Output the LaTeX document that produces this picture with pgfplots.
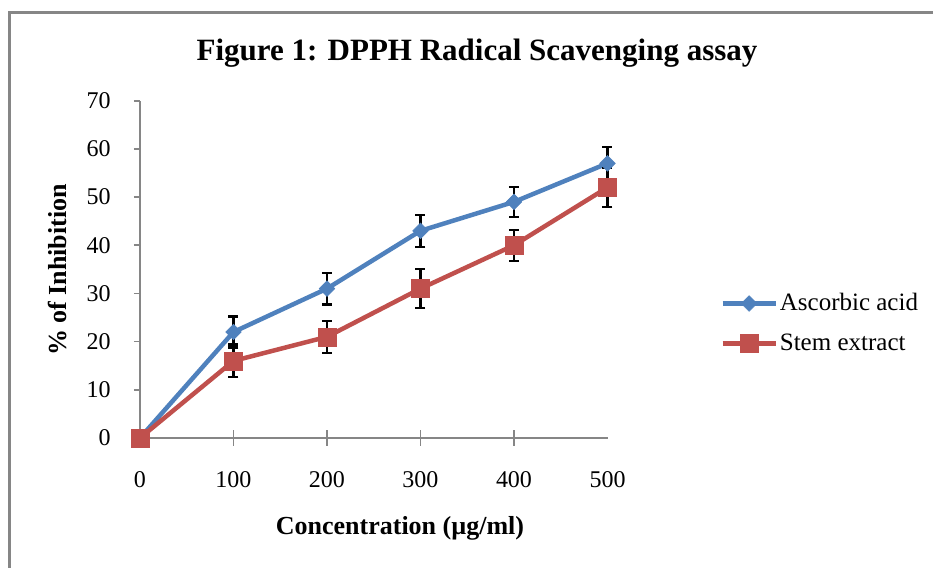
\documentclass[border=0pt]{standalone}
\usepackage{pgfplots}
\pgfplotsset{compat=1.18}
\usepackage{fontspec}
\setmainfont{Liberation Serif}
\definecolor{exblue}{HTML}{4F81BD}
\definecolor{exred}{HTML}{C0504D}
\definecolor{axgray}{HTML}{868686}
\begin{document}
\begin{tikzpicture}
\useasboundingbox (-70pt,-65pt) rectangle (396.5pt,219pt);
\begin{scope}
\clip (-70pt,-65pt) rectangle (396.5pt,219pt);
\draw[line width=1.5pt, draw=axgray] (-65pt,-90pt) -- (-65pt,212.5pt) -- (420pt,212.5pt);
\end{scope}
\node[anchor=base, font=\fontsize{15.5}{18}\selectfont\bfseries] at (168.5pt,188.5pt) {Figure 1: DPPH Radical Scavenging assay};
\node[anchor=base, font=\fontsize{13}{15}\selectfont\bfseries] at (130pt,-48.5pt) {Concentration (µg/ml)};
\node[anchor=base, rotate=90, font=\fontsize{13}{15}\selectfont\bfseries] at (-36.75pt,84pt) {\% of Inhibition};
\begin{axis}[
  at={(0pt,0pt)}, anchor=south west,
  scale only axis, width=233.75pt, height=168.65pt,
  xmin=0, xmax=500, ymin=0, ymax=70,
  axis lines*=left,
  axis line style={-, draw=axgray, line width=1pt},
  xtick={100,200,300,400},
  xticklabels={100,200,300,400},
  extra x ticks={0,500},
  extra x tick labels={0,500},
  extra x tick style={xtick style={/pgfplots/major tick length=0pt}},
  ytick={0,10,...,70},
  xtick align=center, ytick align=outside,
  major tick length=3pt,
  xtick style={/pgfplots/major tick length=8pt},
  tick style={draw=axgray, line width=0.8pt},
  tick label style={font=\fontsize{12}{14}\selectfont},
  /pgf/number format/assume math mode=true,
  yticklabel style={anchor=east, inner sep=0pt, xshift=-11.5pt},
  xticklabel style={anchor=north, inner sep=0pt, yshift=-15pt},
  clip=false,
  legend cell align=left,
  legend style={draw=none, fill=none, at={(1.2406,0.34)}, anchor=west, inner sep=0pt,
    font=\fontsize{12.5}{15}\selectfont, row sep=8pt, nodes={inner sep=1pt}},
  legend image code/.code={\draw[mark repeat=2,mark phase=2] plot coordinates {(0pt,0pt) (13.25pt,0pt) (26.5pt,0pt)};},
]
\addplot[exblue, line width=2.25pt, mark=square*, mark size=2.75pt,
  mark options={solid, rotate=45, fill=exblue, draw=exblue, line width=0.3pt},
  error bars/.cd, y dir=both, y explicit,
  error bar style={black, line width=1.1pt},
  error mark options={black, line width=1.1pt, mark size=2.5pt, rotate=90}]
  table[x=x, y=y, y error=e] {
x y e
0 0 0
100 22 3.2
200 31 3.3
300 43 3.3
400 49 3.1
500 57 3.4
};
\addlegendentry{Ascorbic acid}
\addplot[exred, line width=2.25pt, mark=square*, mark size=4.5pt,
  mark options={solid, fill=exred, draw=exred, line width=0.3pt},
  error bars/.cd, y dir=both, y explicit,
  error bar style={black, line width=1.1pt},
  error mark options={black, line width=1.1pt, mark size=2.5pt, rotate=90}]
  table[x=x, y=y, y error=e] {
x y e
0 0 0
100 16 3.4
200 21 3.3
300 31 4.0
400 40 3.2
500 52 4.0
};
\addlegendentry{Stem extract}
\end{axis}
\end{tikzpicture}
\end{document}
